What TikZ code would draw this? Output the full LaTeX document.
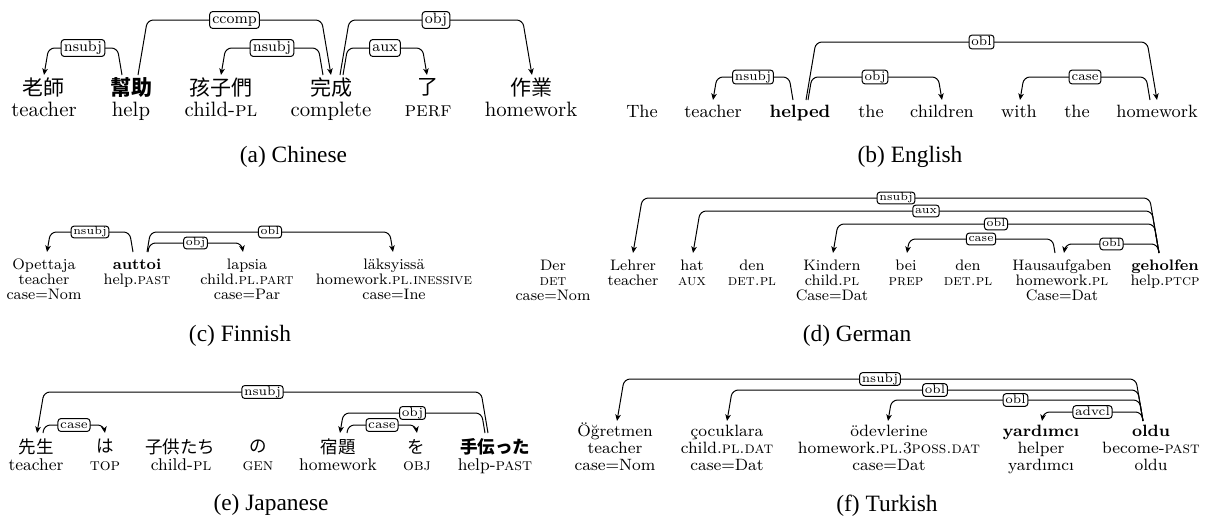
\documentclass[tikz,border=0pt]{standalone}
\usepackage{fontspec}
\newfontfamily\zh{Noto Sans CJK TC}
\newfontfamily\ja{Noto Sans CJK JP}
\newfontfamily\capfont{Liberation Serif}
\usetikzlibrary{arrows.meta,calc}
% #1 head node, #2 dx (px), #3 dependent node, #4 dx (px), #5 base y, #6 top y, #7 label
\newcommand\dep[7]{%
  \draw[deparc] let \p1=(#1), \p2=(#3),
    \n1={ifthenelse(\x2>\x1,1,-1)*0.085*((#5)-(#6))},
    \n2={(#2)*0.5}, \n3={(#4)*0.5}, \n4={-(#5)*0.5}, \n5={-(#6)*0.5} in
    ({\x1+\n2*1pt}, {\n4*1pt}) -- ({\x1+\n2*1pt+\n1*1pt}, {\n5*1pt})
    -- node[lab]{\vphantom{bj}#7} ({\x2+\n3*1pt-\n1*1pt}, {\n5*1pt})
    -- ({\x2+\n3*1pt}, {\n4*1pt});}
\begin{document}
\begin{tikzpicture}[x=0.5pt,y=-0.5pt,
 deparc/.style={draw, line width=0.5pt, rounded corners=3pt, -{Stealth[length=3.3pt,width=2.8pt,inset=0.9pt]}},
 lab/.style={draw, fill=white, rounded corners=1.5pt, inner xsep=1.1pt, inner ysep=0.4pt, line width=0.5pt, font=\lf, anchor=center},
 w/.style={anchor=base, inner sep=0pt, font=\wf},
 cj/.style={anchor=center, inner sep=0pt, font=\cjf},
 captxt/.style={anchor=center, inner sep=0pt, font=\capfont\fontsize{11.7}{14}\selectfont}]
\useasboundingbox (0,0) rectangle (1205,521);

% ---------------- (a) Chinese
\begin{scope}[lab/.append style={inner xsep=1.35pt, inner ysep=0.85pt}]
\def\wf{\fontsize{10.4}{12}\selectfont}\def\lf{\fontsize{7.5}{9}\selectfont}\def\cjf{\zh\fontsize{10.5}{12}\selectfont}
\node[cj] (a1) at (44,87.5) {老師};
\node[cj] (a2) at (131,87.5) {\bfseries 幫助};
\node[cj] (a3) at (221,87.5) {孩子們};
\node[cj] (a4) at (331,87.5) {完成};
\node[cj] (a5) at (428,87.5) {了};
\node[cj] (a6) at (531,87.5) {作業};
\node[w] (a1g) at (44,116) {teacher};
\node[w] (a2g) at (131,116) {help};
\node[w] (a3g) at (221,116) {child-\textsc{pl}};
\node[w] (a4g) at (331,116) {complete};
\node[w] (a5g) at (428,116) {\textsc{perf}};
\node[w] (a6g) at (531,116) {homework};
\dep{a2}{-9}{a1}{0}{75}{48}{nsubj}
\dep{a2}{7}{a4}{0}{75}{20}{ccomp}
\dep{a4}{-8}{a3}{0}{75}{48}{nsubj}
\dep{a4}{9}{a6}{1}{75}{20}{obj}
\dep{a4}{12}{a5}{-1}{75}{48}{aux}
\node[captxt] (capa) at (293.5,157) {(a) Chinese};
\end{scope}

% ---------------- (b) English
\begin{scope}[lab/.append style={inner xsep=1.2pt, inner ysep=0.5pt}]
\def\wf{\fontsize{8.9}{11}\selectfont}\def\lf{\fontsize{6.6}{8}\selectfont}
\node[w] (b1) at (642,117) {The};
\node[w] (b2) at (713,117) {teacher};
\node[w] (b3) at (800,117) {\bfseries helped};
\node[w] (b4) at (871,117) {the};
\node[w] (b5) at (942,117) {children};
\node[w] (b6) at (1019,117) {with};
\node[w] (b7) at (1077,117) {the};
\node[w] (b8) at (1157,117) {homework};
\dep{b3}{-7}{b2}{0}{100}{77}{nsubj}
\dep{b3}{6}{b8}{0}{100}{42}{obl}
\dep{b3}{8}{b5}{0}{100}{77}{obj}
\dep{b8}{-7}{b6}{1}{100}{77}{case}
\node[captxt] (capb) at (910,157) {(b) English};
\end{scope}

% ---------------- (c) Finnish
\begin{scope}
\def\wf{\fontsize{7.6}{9}\selectfont}\def\lf{\fontsize{5.7}{7}\selectfont}
\node[w] (c1) at (44,269) {Opettaja};
\node[w] (c1g) at (44,284) {teacher};
\node[w] (c1c) at (44,299) {case=Nom};
\node[w] (c2) at (137,269) {\bfseries auttoi};
\node[w] (c2g) at (137,284) {help.\textsc{past}};
\node[w] (c3) at (247,269) {lapsia};
\node[w] (c3g) at (247,284) {child.\textsc{pl.part}};
\node[w] (c3c) at (247,299) {case=Par};
\node[w] (c4) at (394,269) {läksyissä};
\node[w] (c4g) at (394,284) {homework.\textsc{pl.inessive}};
\node[w] (c4c) at (394,299) {case=Ine};
\dep{c2}{-4}{c1}{3}{252}{232}{nsubj}
\dep{c2}{10}{c4}{-1}{252}{232}{obl}
\dep{c2}{11}{c3}{-4}{252}{243}{obj}
\node[captxt] (capc) at (240,336) {(c) Finnish};
\end{scope}

% ---------------- (d) German
\begin{scope}
\def\wf{\fontsize{7.6}{9}\selectfont}\def\lf{\fontsize{5.7}{7}\selectfont}
\node[w] (d1) at (553,270) {Der};
\node[w] (d1g) at (553,285) {\textsc{det}};
\node[w] (d1c) at (553,300) {case=Nom};
\node[w] (d2) at (633,270) {Lehrer};
\node[w] (d2g) at (633,285) {teacher};
\node[w] (d3) at (692,270) {hat};
\node[w] (d3g) at (692,285) {\textsc{aux}};
\node[w] (d4) at (752,270) {den};
\node[w] (d4g) at (752,285) {\textsc{det.pl}};
\node[w] (d5) at (832,270) {Kindern};
\node[w] (d5g) at (832,285) {child.\textsc{pl}};
\node[w] (d5c) at (832,300) {Case=Dat};
\node[w] (d6) at (906,270) {bei};
\node[w] (d6g) at (906,285) {\textsc{prep}};
\node[w] (d7) at (968,270) {den};
\node[w] (d7g) at (968,285) {\textsc{det.pl}};
\node[w] (d8) at (1062,270) {Hausaufgaben};
\node[w] (d8g) at (1062,285) {homework.\textsc{pl}};
\node[w] (d8c) at (1062,300) {Case=Dat};
\node[w] (d9) at (1165,270) {\bfseries geholfen};
\node[w] (d9g) at (1165,285) {help.\textsc{ptcp}};
\dep{d9}{-6}{d2}{0}{253}{198}{nsubj}
\dep{d9}{-6}{d3}{1}{253}{211}{aux}
\dep{d9}{-6}{d5}{1}{253}{224}{obl}
\dep{d8}{-7}{d6}{1}{253}{239}{case}
\dep{d9}{-6}{d8}{2}{253}{244}{obl}
\node[captxt] (capd) at (857,336) {(d) German};
\end{scope}

% ---------------- (e) Japanese
\begin{scope}
\def\wf{\fontsize{8.5}{10}\selectfont}\def\lf{\fontsize{6.3}{7.5}\selectfont}\def\cjf{\ja\fontsize{8.75}{10}\selectfont}
\node[cj] (e1) at (36,446.5) {先生};
\node[cj] (e2) at (105,446.5) {は};
\node[cj] (e3) at (180,446.5) {子供たち};
\node[cj] (e4) at (258,446.5) {の};
\node[cj] (e5) at (338,446.5) {宿題};
\node[cj] (e6) at (416,446.5) {を};
\node[cj] (e7) at (495,446.5) {\bfseries 手伝った};
\node[w] (e1g) at (36,470) {teacher};
\node[w] (e2g) at (105,470) {\textsc{top}};
\node[w] (e3g) at (181,470) {child-\textsc{pl}};
\node[w] (e4g) at (258,470) {\textsc{gen}};
\node[w] (e5g) at (338,470) {homework};
\node[w] (e6g) at (417,470) {\textsc{obj}};
\node[w] (e7g) at (495,470) {help-\textsc{past}};
\dep{e7}{-7}{e1}{1}{433}{392}{nsubj}
\dep{e1}{7}{e2}{0}{433}{425}{case}
\dep{e7}{-10}{e5}{2}{433}{413}{obj}
\dep{e5}{9}{e6}{1}{433}{425}{case}
\node[captxt] (cape) at (271,505) {(e) Japanese};
\end{scope}

% ---------------- (f) Turkish
\begin{scope}
\def\wf{\fontsize{8.2}{10}\selectfont}\def\lf{\fontsize{6.2}{7.5}\selectfont}
\node[w] (f1) at (615,436) {Öğretmen};
\node[w] (f1g) at (615,453) {teacher};
\node[w] (f1c) at (615,470) {case=Nom};
\node[w] (f2) at (727,436) {çocuklara};
\node[w] (f2g) at (727,453) {child.\textsc{pl.dat}};
\node[w] (f2c) at (727,470) {case=Dat};
\node[w] (f3) at (889,436) {ödevlerine};
\node[w] (f3g) at (889,453) {homework.\textsc{pl.}3\textsc{poss.dat}};
\node[w] (f3c) at (889,470) {case=Dat};
\node[w] (f4) at (1041,436) {\bfseries yardımcı};
\node[w] (f4g) at (1041,453) {helper};
\node[w] (f4c) at (1041,470) {yardımcı};
\node[w] (f5) at (1151,436) {\bfseries oldu};
\node[w] (f5g) at (1151,453) {become-\textsc{past}};
\node[w] (f5c) at (1151,470) {oldu};
\dep{f5}{-8}{f1}{2}{421}{379}{nsubj}
\dep{f5}{-8}{f2}{0}{421}{390}{obl}
\dep{f5}{-8}{f3}{-1}{421}{400}{obl}
\dep{f5}{-8}{f4}{1}{421}{412}{advcl}
\node[captxt] (capf) at (887,506) {(f) Turkish};
\end{scope}
\end{tikzpicture}
\end{document}
